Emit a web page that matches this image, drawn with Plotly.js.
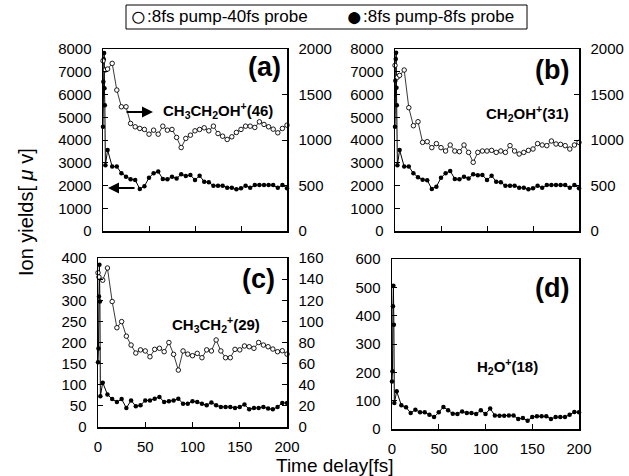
<!DOCTYPE html>
<html><head><meta charset="utf-8">
<script src="https://cdn.plot.ly/plotly-3.0.1.min.js"></script>
<style>body{margin:0;background:#fff}#chart{width:629px;height:476px}</style>
</head><body><div id="chart"></div>
<script>
// ---- data ----
const tFilledAB = [0,0.4,0.8,1.2,1.6,2,2.6,5,10,15,20,25,30,35,40,45,50,55,60,65,70,75,80,85,90,95,100,105,110,115,120,125,130,135,140,145,150,155,160,165,170,175,180,185,190,195,200];
const filledA = [4580,6560,7550,7820,6270,5530,2890,3560,2830,2830,2540,2390,2270,2240,1850,1970,2340,2540,2610,2290,2270,2390,2310,2490,2420,2460,2240,2430,2170,2140,1990,1990,1990,1900,1900,1830,1875,1990,1900,2020,2020,2020,2020,2020,1900,2020,1875];
const filledB = [4580,6600,7560,7840,6300,5530,2890,3560,2830,2830,2540,2360,2250,2230,1850,1950,2340,2540,2640,2290,2270,2390,2310,2490,2450,2460,2240,2430,2170,2140,1990,1990,1990,1900,1900,1830,1875,1990,1900,2020,2020,2020,2020,2020,1900,2020,1875];
const tOpenAB = [0,2.5,5,10,15,20,25,30,35,40,45,50,55,60,65,70,75,80,85,90,95,100,105,110,115,120,125,130,135,140,145,150,155,160,165,170,175,180,185,190,195,200];
const openA = [1870,1770,1780,1842,1549,1365,1365,1182,1145,1127,1116,1064,1108,1064,1152,1108,1116,1028,917,1017,1053,1101,1116,1134,1101,1152,1071,1042,1006,1035,1083,1116,1152,1152,1138,1200,1171,1145,1119,1079,1127,1163];
const openB = [1820,1690,1710,1769,1355,1157,1201,974,982,916,960,916,879,945,879,872,945,864,755,864,879,879,886,864,879,864,938,879,846,864,886,901,960,945,938,989,956,952,938,901,945,974];
const tFilledCD = [0,0.5,1,1.5,2,2.5,5,10,15,20,25,30,35,40,45,50,55,60,65,70,75,80,85,90,95,100,105,110,115,120,125,130,135,140,145,150,155,160,165,170,175,180,185,190,195,200];
const filledC = [153,186,309,384,297,73,105,77,66,59,66,45,63,49,51.5,63,63,67,71,59,61,63,67,55,55,61,59,55,51.5,58,51.5,47.5,47.5,47.5,45,47.5,53,42,45,45,47.5,43.5,42,47.5,57,57];
const tOpenC = [0,1,5,10,15,20,25,30,35,40,45,50,55,60,65,70,75,80,85,90,95,100,105,110,115,120,125,130,135,140,145,150,155,160,165,170,175,180,185,190,195,200];
const openC = [146,142,139,150.5,118.8,94,99.8,86,77.6,70,73,72,66.5,73.5,74.5,71.3,80,68.8,53.9,72,69,67.5,69.7,65.6,73,72,82.4,72,65.6,65.6,73.5,73,76.7,76,74.5,80,77.6,76,73.8,71.3,72.2,69];
const filledD = [168,204,433,506,368,92,133,83.5,76.5,56.5,68,59,59,50.6,42,59,77.6,66,54,53,62,56.5,56.5,53,66,53,72,48,47,47,48,48,35,39,29,42,45,45,45,35,42,42,42,50.6,60,59];
const xTicks = [0,50,100,150,200];
const legendOpenSym = '○', legendOpen = ':8fs pump-40fs probe';
const legendFilledSym = '●', legendFilled = ':8fs pump-8fs probe';

// ---- styles ----
const FONT = 'Arial, "Liberation Sans", sans-serif';
const W = 629, H = 476;
const px = v => v / W, py = v => 1 - v / H;

function filled(x, y, xa, ya) {
  return {x, y, xaxis: xa, yaxis: ya, type: 'scatter', mode: 'lines+markers', cliponaxis: false,
    line: {color: '#000', width: 1}, marker: {size: 4.5, color: '#000'}, showlegend: false, hoverinfo: 'skip'};
}
function open(x, y, xa, ya) {
  return {x, y, xaxis: xa, yaxis: ya, type: 'scatter', mode: 'lines+markers', cliponaxis: false,
    line: {color: '#222', width: 0.9}, marker: {size: 4.5, color: '#fff', line: {color: '#000', width: 0.9}}, showlegend: false, hoverinfo: 'skip'};
}

const data = [
  filled(tFilledAB, filledA, 'x', 'y'),
  open(tOpenAB, openA, 'x', 'y2'),
  filled(tFilledAB, filledB, 'x2', 'y3'),
  open(tOpenAB, openB, 'x2', 'y4'),
  filled(tFilledCD, filledC, 'x3', 'y5'),
  open(tOpenC, openC, 'x3', 'y6'),
  filled(tFilledCD, filledD, 'x4', 'y7')
];

const tickfont = {family: FONT, size: 15, color: '#000'};
function xa(domain, anchor, labels) {
  return {domain, anchor, range: [0, 200], tickvals: xTicks, ticktext: xTicks.map(String),
    showticklabels: labels, ticks: 'inside', ticklen: 5, tickwidth: 1, tickcolor: '#000',
    showline: true, linecolor: '#000', linewidth: 1.5, mirror: true, showgrid: false, zeroline: false,
    tickfont, ticklabelstandoff: 5, fixedrange: true};
}
function ya(extra) {
  return Object.assign({ticks: 'inside', ticklen: 5, tickwidth: 1, tickcolor: '#000',
    showline: true, linecolor: '#000', linewidth: 1.5, showgrid: false, zeroline: false,
    tickfont, ticklabelstandoff: 7, fixedrange: true}, extra);
}
const domAB = [py(231), py(49)];
const layout = {
  width: W, height: H, margin: {l: 0, r: 0, t: 0, b: 0},
  paper_bgcolor: '#fff', plot_bgcolor: 'rgba(0,0,0,0)',
  font: {family: FONT, color: '#000'},
  xaxis: xa([px(103), px(287)], 'y', false),
  yaxis: ya({domain: domAB, anchor: 'x', range: [0, 8000], dtick: 1000}),
  yaxis2: ya({overlaying: 'y', side: 'right', anchor: 'x', range: [0, 2000], dtick: 500}),
  xaxis2: xa([px(395), px(579)], 'y3', false),
  yaxis3: ya({domain: domAB, anchor: 'x2', range: [0, 8000], dtick: 1000}),
  yaxis4: ya({overlaying: 'y3', side: 'right', anchor: 'x2', range: [0, 2000], dtick: 500}),
  xaxis3: xa([px(98), px(287)], 'y5', true),
  yaxis5: ya({domain: [py(427), py(258)], anchor: 'x3', range: [0, 400], dtick: 50}),
  yaxis6: ya({overlaying: 'y5', side: 'right', anchor: 'x3', range: [0, 160], dtick: 20}),
  xaxis4: xa([px(392), px(579)], 'y7', true),
  yaxis7: ya({domain: [py(429), py(259)], anchor: 'x4', range: [0, 600], dtick: 100, mirror: true}),
  shapes: [
    {type: 'rect', xref: 'paper', yref: 'paper', x0: px(126), x1: px(527), y0: py(29), y1: py(5),
     line: {color: '#000', width: 1}, fillcolor: 'rgba(0,0,0,0)'}
  ],
  annotations: []
};
const A = layout.annotations;
function txt(text, x, y, size, bold, xanchor) {
  A.push({xref: 'paper', yref: 'paper', x: px(x), y: py(y), text: bold ? '<b>' + text + '</b>' : text,
    showarrow: false, xanchor: xanchor || 'center', yanchor: 'middle', font: {family: FONT, size, color: '#000'}});
}
txt(legendOpenSym, 138, 17, 28, false);
txt(legendOpen, 145, 17, 17, false, 'left');
txt(legendFilledSym, 354, 17, 28, false);
txt(legendFilled, 361, 17, 17, false, 'left');
txt('(a)', 264, 67, 27, true);
txt('(b)', 552, 70, 27, true);
txt('(c)', 258, 279, 27, true);
txt('(d)', 552, 288, 27, true);
txt('CH<sub>3</sub>CH<sub>2</sub>OH<sup>+</sup>(46)', 218, 110, 15, true);
txt('CH<sub>2</sub>OH<sup>+</sup>(31)', 527, 113, 15, true);
txt('CH<sub>3</sub>CH<sub>2</sub><sup>+</sup>(29)', 216, 324, 15, true);
txt('H<sub>2</sub>O<sup>+</sup>(18)', 507, 366, 15, true);
txt('Time delay[fs]', 335, 465, 19, false);
A.push({xref: 'paper', yref: 'paper', x: px(26), y: py(212), text: 'Ion yields[ <i>μ</i> v]', textangle: -90,
  showarrow: false, xanchor: 'center', yanchor: 'middle', font: {family: FONT, size: 20, color: '#000'}});
// arrows
A.push({xref: 'paper', yref: 'paper', x: px(153), y: py(112), ax: -28, ay: 0, axref: 'pixel', ayref: 'pixel',
  showarrow: true, arrowhead: 2, arrowsize: 1, arrowwidth: 2.2, arrowcolor: '#000', text: ''});
A.push({xref: 'paper', yref: 'paper', x: px(108), y: py(188), ax: 28, ay: 0, axref: 'pixel', ayref: 'pixel',
  showarrow: true, arrowhead: 2, arrowsize: 1, arrowwidth: 2.2, arrowcolor: '#000', text: ''});

Plotly.newPlot('chart', data, layout, {staticPlot: true, displayModeBar: false});
</script></body></html>
